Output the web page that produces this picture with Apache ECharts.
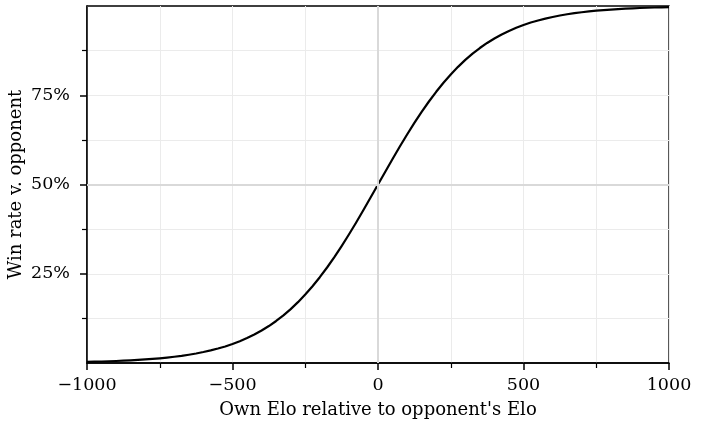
<!DOCTYPE html>
<html><head><meta charset="utf-8">
<script src="https://cdn.jsdelivr.net/npm/echarts@6/dist/echarts.min.js"></script>
<style>html,body{margin:0;padding:0;background:#fff}#c{width:712px;height:422px}</style>
</head><body><div id="c"></div>
<script>
const elo = [-1000,-975,-950,-925,-900,-875,-850,-825,-800,-775,-750,-725,-700,-675,-650,-625,-600,-575,-550,-525,-500,-475,-450,-425,-400,-375,-350,-325,-300,-275,-250,-225,-200,-175,-150,-125,-100,-75,-50,-25,0,25,50,75,100,125,150,175,200,225,250,275,300,325,350,375,400,425,450,475,500,525,550,575,600,625,650,675,700,725,750,775,800,825,850,875,900,925,950,975,1000];
const winRate = [0.0031,0.0036,0.0042,0.0049,0.0056,0.0065,0.0074,0.0086,0.0099,0.0114,0.0132,0.0152,0.0175,0.0201,0.0232,0.0267,0.0307,0.0352,0.0405,0.0464,0.0532,0.0610,0.0698,0.0797,0.0909,0.1035,0.1177,0.1334,0.1510,0.1704,0.1917,0.2150,0.2403,0.2675,0.2966,0.3275,0.3599,0.3937,0.4285,0.4641,0.5000,0.5359,0.5715,0.6063,0.6401,0.6725,0.7034,0.7325,0.7597,0.7850,0.8083,0.8296,0.8490,0.8666,0.8823,0.8965,0.9091,0.9203,0.9302,0.9390,0.9468,0.9536,0.9595,0.9648,0.9693,0.9733,0.9768,0.9799,0.9825,0.9848,0.9868,0.9886,0.9901,0.9914,0.9926,0.9935,0.9944,0.9951,0.9958,0.9964,0.9969];
const yMajor = [0.25,0.5,0.75];
const yMinor = [0.125,0.375,0.625,0.875];
const xName = "Own Elo relative to opponent's Elo";
const yName = "Win rate v. opponent";

const font = 'DejaVu Serif';
const chart = echarts.init(document.getElementById('c'), null, {renderer:'canvas'});
chart.setOption({
  animation:false,
  grid: {left:87,right:43,top:6,bottom:59,containLabel:false,outerBoundsMode:'none',
    show:true,borderColor:'#000',borderWidth:1.3,backgroundColor:'transparent'},
  xAxis: {
    type:'value', min:-1000, max:1000, interval:500,
    name:xName, nameLocation:'middle', nameGap:38, nameMoveOverlap:false,
    nameTextStyle:{fontFamily:font,fontSize:18,color:'#000'},
    axisLine:{show:true,onZero:false,lineStyle:{color:'#000',width:1.5}},
    axisTick:{show:true,inside:false,length:7,lineStyle:{color:'#000',width:1.5}},
    minorTick:{show:true,splitNumber:2,length:5,lineStyle:{color:'#000',width:1.2}},
    splitLine:{show:true,lineStyle:{color:'#ebebeb',width:1}},
    minorSplitLine:{show:true,lineStyle:{color:'#ebebeb',width:1}},
    axisLabel:{fontFamily:font,fontSize:17.5,color:'#000',margin:13,
      formatter:v=>String(v).replace('-','\u2212')}
  },
  yAxis: [{
    type:'value', min:0, max:1, interval:0.25,
    name:yName, nameLocation:'middle', nameGap:62, nameMoveOverlap:false,
    nameTextStyle:{fontFamily:font,fontSize:18,color:'#000'},
    axisLine:{show:true,onZero:false,lineStyle:{color:'#000',width:1.5}},
    axisTick:{show:true,length:7,customValues:yMajor,lineStyle:{color:'#000',width:1.5}},
    axisLabel:{fontFamily:font,fontSize:17.5,color:'#000',margin:17,customValues:yMajor,
      formatter:v=>Math.round(v*100)+'%'},
    splitLine:{show:true,lineStyle:{color:'#ebebeb',width:1}}
  },{
    type:'value', min:0, max:1, interval:0.125, position:'left',
    axisLine:{show:false,onZero:false},
    axisTick:{show:true,length:5,customValues:yMinor,lineStyle:{color:'#000',width:1.2}},
    axisLabel:{show:false},
    splitLine:{show:true,lineStyle:{color:'#ebebeb',width:1}}
  }],
  series: [{
    type:'line', data:[], z:1, silent:true,
    markLine:{silent:true,symbol:'none',label:{show:false},animation:false,
      lineStyle:{color:'#d9d9d9',width:2,type:'solid'},
      data:[{xAxis:0},{yAxis:0.5}]}
  },{
    type:'line', data: elo.map((x,i)=>[x,winRate[i]]), z:3,
    smooth:false, showSymbol:false, symbol:'none',
    lineStyle:{color:'#000',width:2.2,join:'round'}
  }]
});
</script></body></html>
